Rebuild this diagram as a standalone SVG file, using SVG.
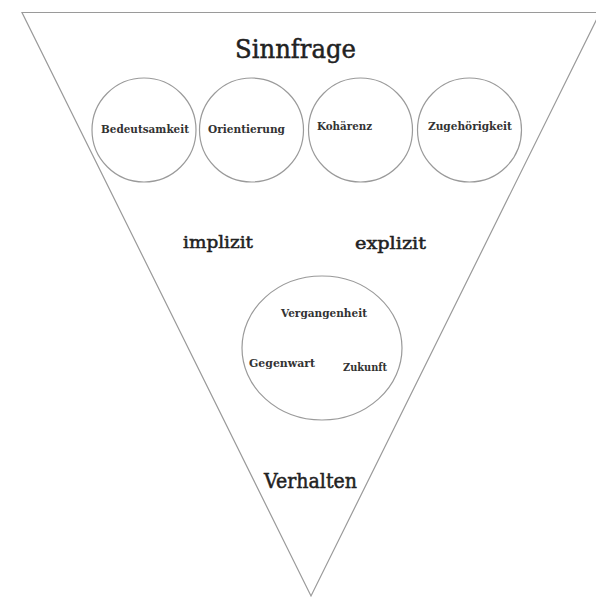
<svg xmlns="http://www.w3.org/2000/svg" width="596" height="598" viewBox="0 0 596 598">
<style>
.ln{fill:none;stroke:#9a9a9a;stroke-width:1.2}
.t{font-family:"DejaVu Serif","Liberation Serif",serif;fill:#222;text-anchor:middle}
.b{stroke:#222;stroke-width:0.5}
.s{font-size:10.5px;font-weight:bold;fill:#333}
.m{font-size:17px}
</style>
<rect width="596" height="598" fill="#fff"/>
<g id="funnel"><polygon class="ln" points="22,12.5 600,12.5 311,596"/></g>
<g id="sinnfrage"><text class="t b" x="295.5" y="58" font-size="26" textLength="121" lengthAdjust="spacingAndGlyphs">Sinnfrage</text></g>
<g id="bedeutsamkeit"><circle class="ln" cx="144" cy="130" r="52"/><text class="t s" x="145" y="133" textLength="88" lengthAdjust="spacingAndGlyphs">Bedeutsamkeit</text></g>
<g id="orientierung"><circle class="ln" cx="251.5" cy="130" r="52"/><text class="t s" x="246.5" y="133" textLength="77" lengthAdjust="spacingAndGlyphs">Orientierung</text></g>
<g id="kohaerenz"><circle class="ln" cx="360.5" cy="130" r="52"/><text class="t s" x="344.5" y="130" textLength="55" lengthAdjust="spacingAndGlyphs">Kohärenz</text></g>
<g id="zugehoerigkeit"><circle class="ln" cx="469.5" cy="130" r="52"/><text class="t s" x="470" y="130" textLength="84" lengthAdjust="spacingAndGlyphs">Zugehörigkeit</text></g>
<g id="implizit"><text class="t m b" x="218" y="248" textLength="70" lengthAdjust="spacingAndGlyphs">implizit</text></g>
<g id="explizit"><text class="t m b" x="390.5" y="249" textLength="71" lengthAdjust="spacingAndGlyphs">explizit</text></g>
<g id="zeit"><ellipse class="ln" cx="322" cy="348" rx="80" ry="72"/>
<text class="t s" x="324" y="317" textLength="86" lengthAdjust="spacingAndGlyphs">Vergangenheit</text>
<text class="t s" x="282" y="367" textLength="66" lengthAdjust="spacingAndGlyphs">Gegenwart</text>
<text class="t s" x="365" y="371" textLength="44" lengthAdjust="spacingAndGlyphs">Zukunft</text>
</g>
<g id="verhalten"><text class="t b" x="310.5" y="488" font-size="20" textLength="93" lengthAdjust="spacingAndGlyphs">Verhalten</text></g>
<g id="connectors"></g>
</svg>
